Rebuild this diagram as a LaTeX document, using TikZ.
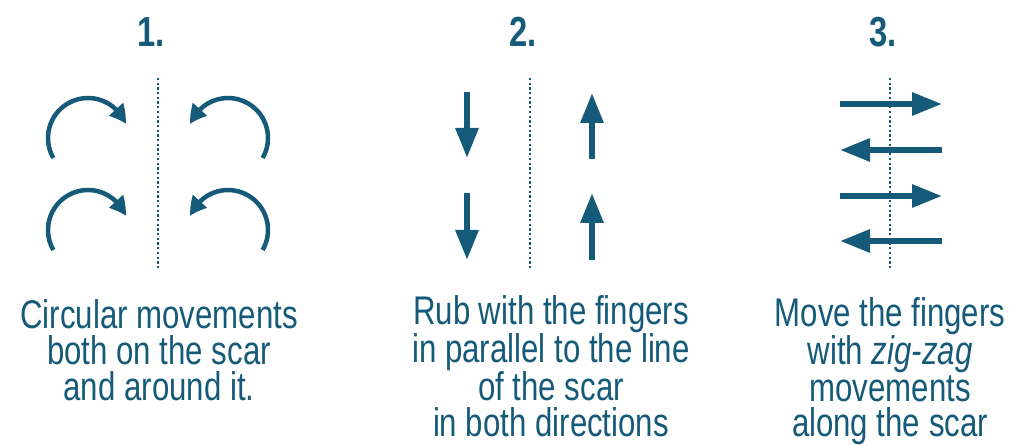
\documentclass[tikz,border=0pt]{standalone}
\usepackage{fontspec}
\usepackage{tikz}
\usetikzlibrary{arrows.meta,bending}
\newfontfamily\condfont[FakeStretch=0.78]{Liberation Sans}
\definecolor{scarblue}{HTML}{155A79}
\tikzset{
  heading/.style={font=\condfont\bfseries\fontsize{42}{42}\selectfont, text=scarblue, inner sep=0pt},
  caption/.style={font=\condfont\fontsize{40}{36}\selectfont, text=scarblue, align=center, inner sep=0pt, anchor=base},
  scarline/.style={draw=scarblue, line width=2.4pt, dash pattern=on 2.3pt off 2.4pt},
  roundarrow/.style={draw=scarblue, line width=4.5pt, -{Triangle[length=18pt,width=18pt,bend]}},
  straightarrow/.style={draw=scarblue, line width=6pt, -{Triangle[length=30pt,width=22pt]}}
}

\begin{document}
\begin{tikzpicture}[x=1pt,y=1pt]
\useasboundingbox (0,0) rectangle (1011,444);

% headings
\node[heading] (h1) at (151,412) {1.};
\node[heading] (h2) at (523,412) {2.};
\node[heading] (h3) at (883,412) {3.};

% 1. circular movements
\coordinate (s1a) at (158,366);
\coordinate (s1b) at (158,176);
\draw[scarline] (s1a) -- (s1b);
\coordinate (c1) at (88,306);
\coordinate (c2) at (88,214);
\coordinate (c3) at (228,306);
\coordinate (c4) at (228,214);
\draw[roundarrow] ([shift={(210:40)}]c1) arc[start angle=210, end angle=20, radius=40];
\draw[roundarrow] ([shift={(210:40)}]c2) arc[start angle=210, end angle=20, radius=40];
\draw[roundarrow] ([shift={(-30:40)}]c3) arc[start angle=-30, end angle=160, radius=40];
\draw[roundarrow] ([shift={(-30:40)}]c4) arc[start angle=-30, end angle=160, radius=40];

% 2. parallel movements
\coordinate (s2a) at (530,366);
\coordinate (s2b) at (530,176);
\draw[scarline] (s2a) -- (s2b);
\coordinate (d1) at (467,352);
\coordinate (d1e) at (467,286);
\coordinate (d2) at (467,251);
\coordinate (d2e) at (467,184);
\coordinate (u1) at (592,285);
\coordinate (u1e) at (592,351);
\coordinate (u2) at (592,184);
\coordinate (u2e) at (592,251);
\draw[straightarrow] (d1) -- (d1e);
\draw[straightarrow] (d2) -- (d2e);
\draw[straightarrow] (u1) -- (u1e);
\draw[straightarrow] (u2) -- (u2e);

% 3. zig-zag movements
\coordinate (s3a) at (890,366);
\coordinate (s3b) at (890,176);
\draw[scarline] (s3a) -- (s3b);
\coordinate (r1) at (840,340);
\coordinate (r1e) at (942,340);
\coordinate (l1) at (942,294);
\coordinate (l1e) at (840,294);
\coordinate (r2) at (840,248);
\coordinate (r2e) at (942,248);
\coordinate (l2) at (942,203);
\coordinate (l2e) at (840,203);
\draw[straightarrow] (r1) -- (r1e);
\draw[straightarrow] (l1) -- (l1e);
\draw[straightarrow] (r2) -- (r2e);
\draw[straightarrow] (l2) -- (l2e);

% captions (base = last line)
\node[caption] (t1) at (159,43) {Circular movements\\both on the scar\\and around it.};
\node[caption] (t2) at (551,7) {Rub with the fingers\\in parallel to the line\\of the scar\\in both directions};
\node[caption] (t3) at (890,7) {Move the fingers\\with \textit{zig-zag}\\movements\\along the scar};
\end{tikzpicture}
\end{document}
